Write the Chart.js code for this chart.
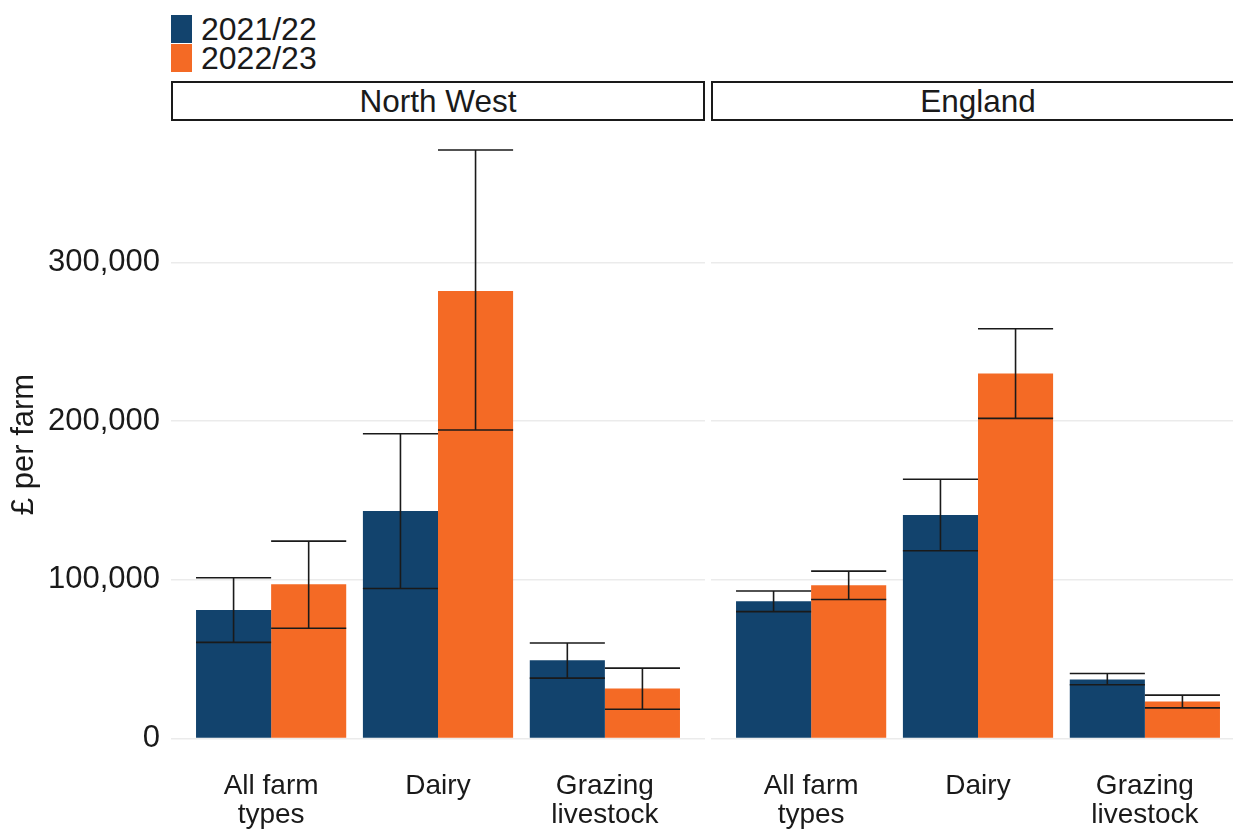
<!DOCTYPE html>
<html>
<head>
<meta charset="utf-8">
<script src="https://cdn.jsdelivr.net/npm/chart.js@4.4.1/dist/chart.umd.min.js"></script>
<style>
html,body{margin:0;padding:0;background:#fff;overflow:hidden;width:1233px;height:829px;}
body{position:relative;font-family:"Liberation Sans",Arial,sans-serif;color:#1a1a1a;}
canvas{position:absolute;top:0;}
#c1{left:0;}
#c2{left:711px;}
.strip{position:absolute;top:81px;height:40px;width:534px;box-sizing:border-box;border:2px solid #1a1a1a;text-align:center;font-size:31.5px;line-height:37px;white-space:nowrap;}
.leg{position:absolute;left:171px;height:28px;}
.sw{position:absolute;left:0;top:0;width:21px;height:28px;}
.lt{position:absolute;left:30px;top:0;font-size:32px;line-height:28px;white-space:nowrap;}
</style>
</head>
<body>
<div class="leg" style="top:15px"><div class="sw" id="sw0"></div><div class="lt" id="lt0"></div></div>
<div class="leg" style="top:44px"><div class="sw" id="sw1"></div><div class="lt" id="lt1"></div></div>
<div class="strip" id="s0" style="left:171px"></div>
<div class="strip" id="s1" style="left:711px"></div>
<canvas id="c1" width="705" height="829" style="width:705px;height:829px"></canvas>
<canvas id="c2" width="534" height="829" style="width:534px;height:829px"></canvas>
<script>
// ---- data ----
const categories = [["All farm", "types"], "Dairy", ["Grazing", "livestock"]];
const regions = ["North West", "England"];
const seriesNames = ["2021/22", "2022/23"];
const yTicks = [0, 100000, 200000, 300000];

const nw2122 = [81000, 143400, 49300];
const nw2122Low = [60600, 94600, 38100];
const nw2122High = [101300, 192000, 60200];
const nw2223 = [97300, 282000, 31600];
const nw2223Low = [69500, 194400, 18500];
const nw2223High = [124400, 370700, 44400];

const en2122 = [86500, 140900, 37300];
const en2122Low = [80000, 118300, 33900];
const en2122High = [93000, 163400, 41000];
const en2223 = [96600, 229900, 23400];
const en2223Low = [87600, 201700, 19400];
const en2223High = [105500, 258200, 27400];

const colors = ["#12436D", "#F46A25"];

// ---- legend & strips (text) ----
document.getElementById("sw0").style.background = colors[0];
document.getElementById("sw1").style.background = colors[1];
document.getElementById("lt0").textContent = seriesNames[0];
document.getElementById("lt1").textContent = seriesNames[1];
document.getElementById("s0").textContent = regions[0];
document.getElementById("s1").textContent = regions[1];

Chart.defaults.font.family = '"Liberation Sans", Arial, sans-serif';
Chart.defaults.color = "#1a1a1a";

const errorBars = {
  id: "errorBars",
  afterDatasetsDraw(chart) {
    const ctx = chart.ctx, ys = chart.scales.y;
    chart.data.datasets.forEach((ds, di) => {
      const meta = chart.getDatasetMeta(di);
      meta.data.forEach((bar, i) => {
        const p = bar.getProps(["x", "width"], true);
        const lo = ys.getPixelForValue(ds.errLow[i]);
        const hi = ys.getPixelForValue(ds.errHigh[i]);
        const h = p.width / 2;
        ctx.save();
        ctx.strokeStyle = "#1a1a1a";
        ctx.lineWidth = 1.6;
        ctx.beginPath();
        ctx.moveTo(p.x, lo); ctx.lineTo(p.x, hi);
        ctx.moveTo(p.x - h, hi); ctx.lineTo(p.x + h, hi);
        ctx.moveTo(p.x - h, lo); ctx.lineTo(p.x + h, lo);
        ctx.stroke();
        ctx.restore();
      });
    });
  }
};

function toPts(arr) { return arr.map((v, i) => ({ x: i, y: v })); }

function makePanel(id, showY, a, aLo, aHi, b, bLo, bHi) {
  return new Chart(document.getElementById(id), {
    type: "bar",
    data: {
      datasets: [
        { label: seriesNames[0], data: toPts(a), errLow: aLo, errHigh: aHi, backgroundColor: colors[0], borderWidth: 0, categoryPercentage: 0.9, barPercentage: 1.0 },
        { label: seriesNames[1], data: toPts(b), errLow: bLo, errHigh: bHi, backgroundColor: colors[1], borderWidth: 0, categoryPercentage: 0.9, barPercentage: 1.0 }
      ]
    },
    options: {
      responsive: false,
      animation: false,
      devicePixelRatio: 1,
      layout: { padding: { top: 121, left: 0, right: 0, bottom: 0 } },
      plugins: { legend: { display: false }, tooltip: { enabled: false } },
      scales: {
        x: {
          type: "linear", min: -0.6, max: 2.6, offset: false,
          afterBuildTicks: s => { s.ticks = [0, 1, 2].map(v => ({ value: v })); },
          afterFit: s => { s.height = 61; },
          grid: { display: false, drawTicks: false, offset: false },
          border: { display: false },
          ticks: { font: { size: 28, lineHeight: 1.06 }, color: "#1a1a1a", padding: 3, maxRotation: 0, autoSkip: false,
                   callback: v => categories[v] }
        },
        y: {
          type: "linear", min: -18500, max: 389000,
          afterBuildTicks: s => { s.ticks = yTicks.map(v => ({ value: v })); },
          afterFit: s => { s.width = showY ? 171 : 0; },
          grid: { color: "#ebebeb", lineWidth: 1.6, drawTicks: false },
          border: { display: false },
          ticks: { display: showY, font: { size: 31 }, color: "#1a1a1a", padding: 11,
                   callback: v => v.toLocaleString("en-GB") },
          title: { display: showY, text: "£ per farm", font: { size: 31 }, color: "#1a1a1a", padding: { top: 6, bottom: 0 } }
        }
      }
    },
    plugins: [errorBars]
  });
}

makePanel("c1", true, nw2122, nw2122Low, nw2122High, nw2223, nw2223Low, nw2223High);
makePanel("c2", false, en2122, en2122Low, en2122High, en2223, en2223Low, en2223High);
</script>
</body>
</html>
